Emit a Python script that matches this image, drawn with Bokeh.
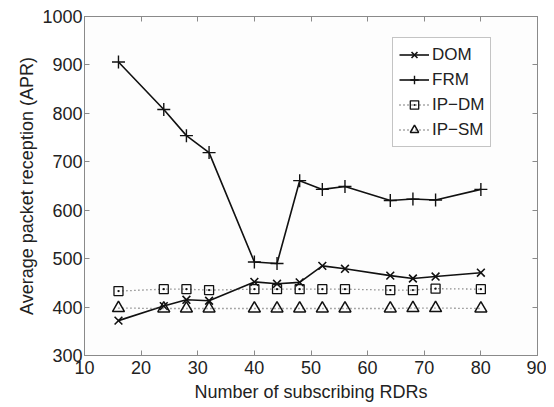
from bokeh.plotting import figure
from bokeh.models import Range1d, LinearAxis, FixedTicker, Legend, LegendItem
from bokeh.embed import file_html
from bokeh.resources import INLINE

x_vals = [16, 24, 28, 32, 40, 44, 48, 52, 56, 64, 68, 72, 80]
dom = [372, 402, 415, 413, 452, 448, 451, 485, 479, 465, 459, 463, 471]
frm = [906, 808, 754, 719, 493, 490, 661, 643, 649, 620, 623, 621, 643]
ip_dm = [433, 437, 437, 435, 437, 437, 437, 437, 437, 435, 435, 438, 437]
ip_sm = [398, 397, 397, 397, 397, 397, 397, 397, 397, 397, 398, 398, 397]
x_ticks = [10, 20, 30, 40, 50, 60, 70, 80, 90]
y_ticks = [300, 400, 500, 600, 700, 800, 900, 1000]

FONT = "Liberation Sans"
TXT = "#222222"
AX = "#8a8a8a"

p = figure(width=546, height=404, output_backend="svg", toolbar_location=None,
           x_range=Range1d(10, 90), y_range=Range1d(300, 1000),
           min_border_left=84, min_border_top=16, min_border_right=9, min_border_bottom=47)
p.grid.visible = False
p.outline_line_color = AX
p.background_fill_color = "#fdfdfd"

for ax in p.xaxis + p.yaxis:
    ax.axis_line_color = AX
    ax.major_tick_line_color = AX
    ax.major_tick_in = 5
    ax.major_tick_out = 0
    ax.minor_tick_line_color = None
    ax.major_label_text_font = FONT
    ax.major_label_text_font_size = "18px"
    ax.major_label_text_color = TXT
    ax.axis_label_text_font = FONT
    ax.axis_label_text_font_size = "18px"
    ax.axis_label_text_font_style = "normal"
    ax.axis_label_text_color = TXT
p.xaxis.ticker = FixedTicker(ticks=x_ticks)
p.yaxis.ticker = FixedTicker(ticks=y_ticks)
p.xaxis.axis_label = "Number of subscribing RDRs"
p.yaxis.axis_label = "Average packet reception (APR)"
p.xaxis.major_label_standoff = 5
p.yaxis.major_label_standoff = 2
p.xaxis.axis_label_standoff = 5
p.yaxis.axis_label_standoff = 2

top = LinearAxis(ticker=FixedTicker(ticks=x_ticks), major_tick_in=5, major_tick_out=0,
                 major_label_text_font_size="1px", major_label_text_color=None,
                 axis_line_color=AX, major_tick_line_color=AX, minor_tick_line_color=None)
right = LinearAxis(ticker=FixedTicker(ticks=y_ticks), major_tick_in=5, major_tick_out=0,
                   major_label_text_font_size="1px", major_label_text_color=None,
                   axis_line_color=AX, major_tick_line_color=AX, minor_tick_line_color=None)
p.add_layout(top, "above")
p.add_layout(right, "right")

C = "#111111"
l1 = p.line(x_vals, dom, line_color=C, line_width=1.6)
m1 = p.scatter(x_vals, dom, marker="x", size=11, line_color=C, line_width=1.6)
l2 = p.line(x_vals, frm, line_color=C, line_width=1.6)
m2 = p.scatter(x_vals, frm, marker="cross", size=13, line_color=C, line_width=1.4)
l3 = p.line(x_vals, ip_dm, line_color="#555555", line_width=1.3, line_dash="1 3")
m3 = p.scatter(x_vals, ip_dm, marker="square_dot", size=9, line_color=C, line_width=1.3,
               fill_color=None)
l4 = p.line(x_vals, ip_sm, line_color="#555555", line_width=1.3, line_dash="1 3")
m4 = p.scatter(x_vals, ip_sm, marker="triangle", size=12, line_color=C, line_width=1.5,
               fill_color=None)

legend = Legend(items=[
    LegendItem(label="DOM", renderers=[l1, m1]),
    LegendItem(label="FRM", renderers=[l2, m2]),
    LegendItem(label="IP\u2212DM", renderers=[l3, m3]),
    LegendItem(label="IP\u2212SM", renderers=[l4, m4]),
], location=(308, 208))
legend.label_text_font = FONT
legend.label_text_font_size = "17px"
legend.label_text_color = TXT
legend.border_line_color = AX
legend.background_fill_color = "#ffffff"
legend.glyph_width = 30
legend.glyph_height = 21
legend.label_standoff = 3
legend.spacing = 4
legend.padding = 6
legend.margin = 0
legend.label_height = 21
p.add_layout(legend, "center")

open("out.html", "w").write(file_html(p, INLINE))
